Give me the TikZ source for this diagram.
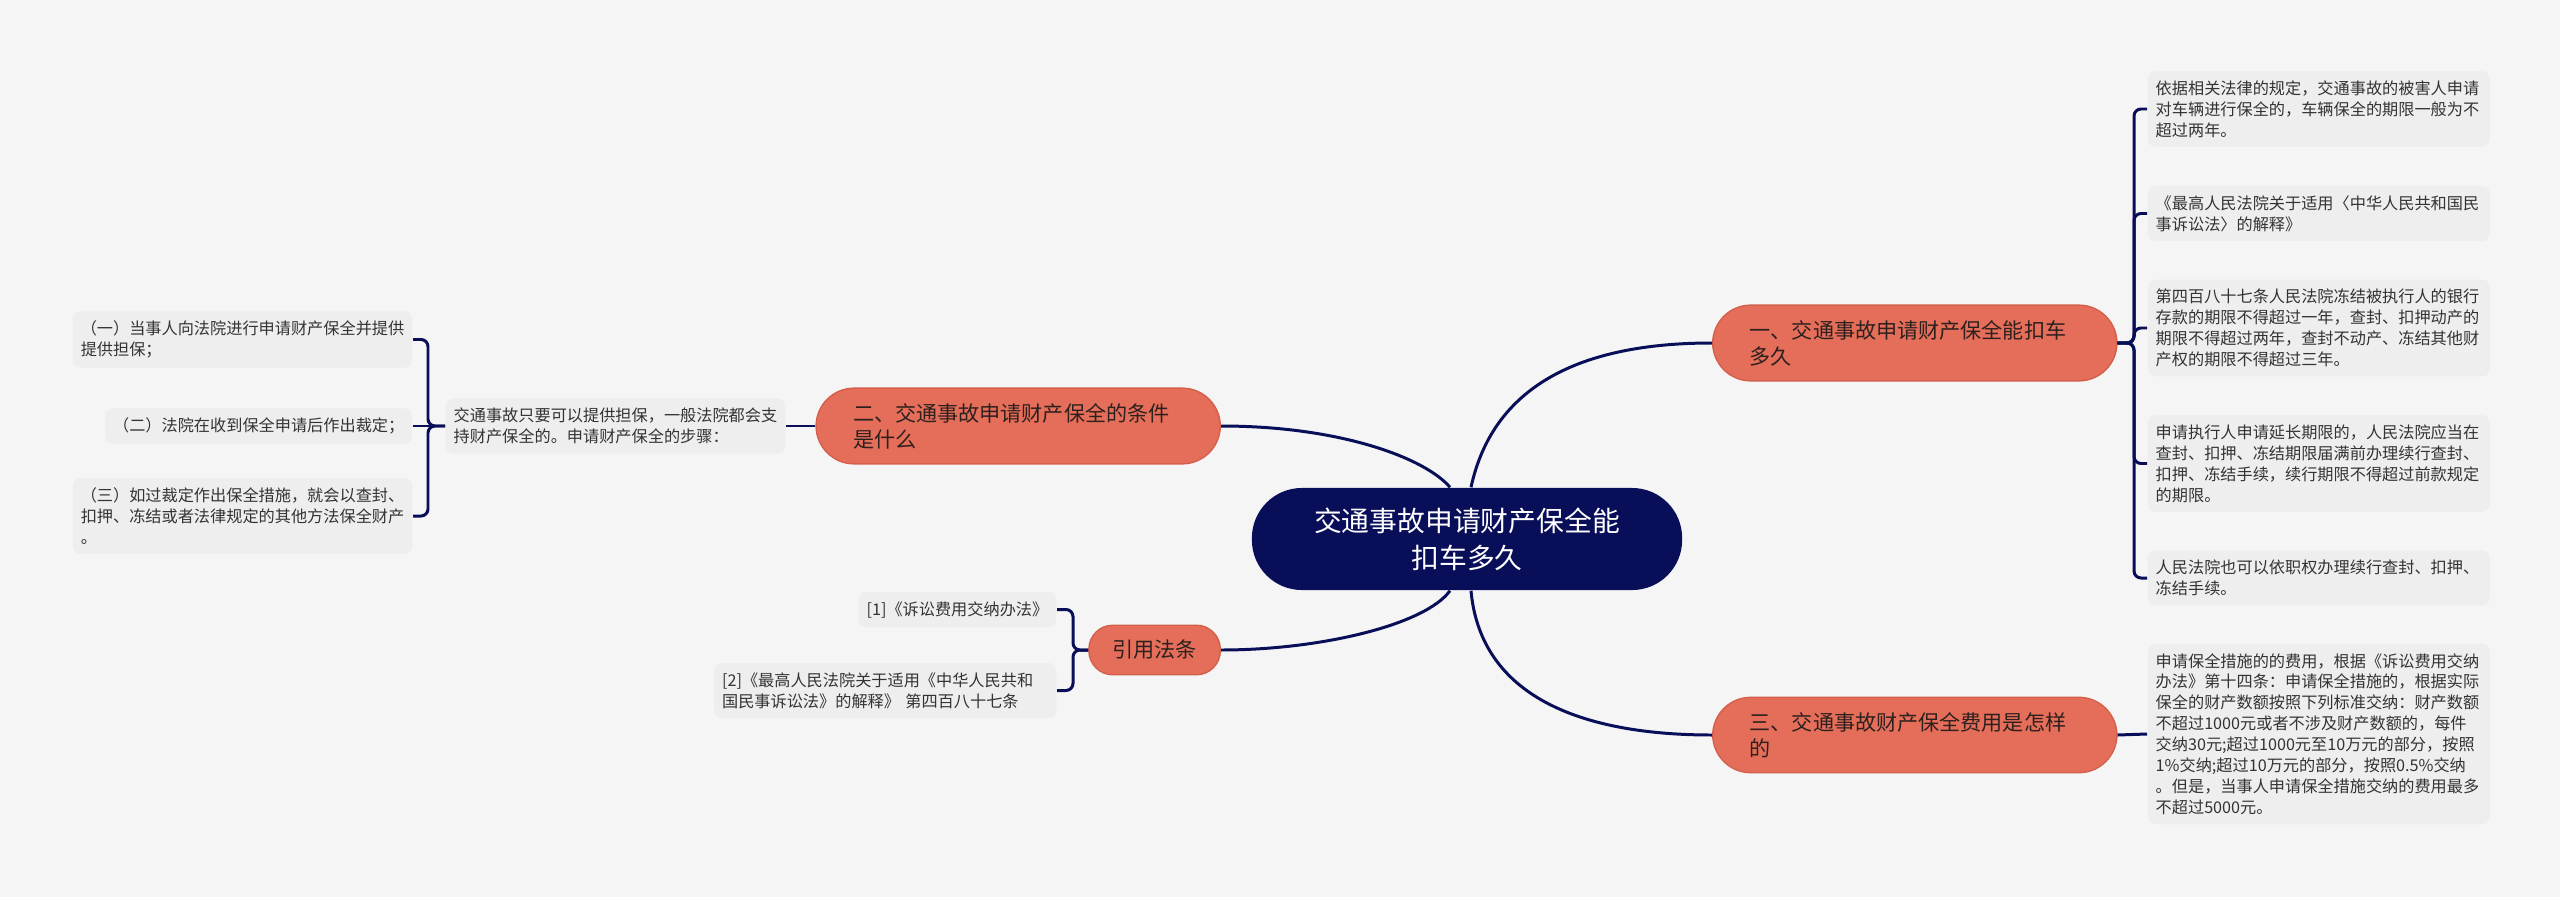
\documentclass[tikz,border=0pt]{standalone}
\usepackage{fontspec}
\setmainfont{Noto Sans CJK SC}
\definecolor{bgcol}{RGB}{245,245,245}
\definecolor{leafcol}{RGB}{238,238,238}
\definecolor{leaftext}{RGB}{51,51,51}
\definecolor{navy}{RGB}{8,14,88}
\definecolor{topiccol}{RGB}{228,110,89}
\definecolor{topicline}{RGB}{212,96,76}
\definecolor{topictext}{RGB}{45,32,30}
\begin{document}
\begin{tikzpicture}[x=0.01cm, y=-0.01cm,
    link/.style={draw=navy, line width=0.85pt},
    leaf/.style={fill=leafcol, rounded corners=0.08cm, inner xsep=0.08cm, inner ysep=0.095cm,
      text=leaftext, align=left, font=\fontsize{4.6pt}{5.95pt}\selectfont},
    rleaf/.style={leaf, text width=3.26cm},
    topic/.style={fill=topiccol, draw=topicline, line width=0.4pt, text=topictext, align=left,
      inner ysep=0.15cm, font=\fontsize{6pt}{7.4pt}\selectfont},
    topicwide/.style={topic, rounded corners=0.38cm, inner xsep=0.37cm, text width=3.3cm},
    root/.style={fill=navy, text=white, rounded corners=0.5cm, minimum width=4.3cm,
      minimum height=1.02cm, align=center, font=\fontsize{7.9pt}{10.5pt}\selectfont}]
  % Background and frame
  \useasboundingbox (0,0) rectangle (2560,897);
  \fill[bgcol] (0,0) rectangle (2560,897);

  % Root and topics
  \node[root] (root) at (1467,539) {交通事故申请财产保全能\\扣车多久};
  \node[topicwide, anchor=west] (t1) at (1712,343) {一、交通事故申请财产保全能扣车\\多久};
  \node[topicwide, anchor=east] (t2) at (1221,426) {二、交通事故申请财产保全的条件\\是什么};
  \node[topicwide, anchor=west] (t3) at (1712,735) {三、交通事故财产保全费用是怎样\\的};
  \node[topic, rounded corners=0.24cm, inner xsep=0.235cm, anchor=east] (t4) at (1221,650) {引用法条};

  % Right leaves
  \node[rleaf, anchor=west] (r1) at (2147,109) {依据相关法律的规定，交通事故的被害人申请\\对车辆进行保全的，车辆保全的期限一般为不\\超过两年。};
  \node[rleaf, anchor=west] (r2) at (2147,213.5) {《最高人民法院关于适用〈中华人民共和国民\\事诉讼法〉的解释》};
  \node[rleaf, anchor=west] (r3) at (2147,328) {第四百八十七条人民法院冻结被执行人的银行\\存款的期限不得超过一年，查封、扣押动产的\\期限不得超过两年，查封不动产、冻结其他财\\产权的期限不得超过三年。};
  \node[rleaf, anchor=west] (r4) at (2147,463.5) {申请执行人申请延长期限的，人民法院应当在\\查封、扣押、冻结期限届满前办理续行查封、\\扣押、冻结手续，续行期限不得超过前款规定\\的期限。};
  \node[rleaf, anchor=west] (r5) at (2147,578) {人民法院也可以依职权办理续行查封、扣押、\\冻结手续。};
  \node[rleaf, anchor=west] (r6) at (2147,734) {申请保全措施的的费用，根据《诉讼费用交纳\\办法》第十四条：申请保全措施的，根据实际\\保全的财产数额按照下列标准交纳：财产数额\\不超过1000元或者不涉及财产数额的，每件\\交纳30元;超过1000元至10万元的部分，按照\\1\%交纳;超过10万元的部分，按照0.5\%交纳\\。但是，当事人申请保全措施交纳的费用最多\\不超过5000元。};

  % Left leaves
  \node[leaf, anchor=west] (m) at (445,426) {交通事故只要可以提供担保，一般法院都会支\\持财产保全的。申请财产保全的步骤：};
  \node[leaf, anchor=east] (l1) at (413,339.5) {（一）当事人向法院进行申请财产保全并提供\\提供担保；};
  \node[leaf, anchor=east] (l2) at (413,426) {（二）法院在收到保全申请后作出裁定；};
  \node[leaf, anchor=east] (l3) at (413,516) {（三）如过裁定作出保全措施，就会以查封、\\扣押、冻结或者法律规定的其他方法保全财产\\。};

  % Citations
  \node[leaf, anchor=east] (c1) at (1057,609.5) {[1]《诉讼费用交纳办法》};
  \node[rleaf, anchor=east] (c2) at (1057,690.5) {[2]《最高人民法院关于适用《中华人民共和\\国民事诉讼法》的解释》 第四百八十七条};

  % Root connectors
  \draw[link] (t2.east) .. controls (1340,426) and (1425,458) .. ([xshift=-0.17cm]root.north);
  \draw[link] ([xshift=0.04cm]root.north) .. controls (1490,400) and (1560,343) .. (t1.west);
  \draw[link] ([xshift=-0.17cm]root.south) .. controls (1425,625) and (1320,650) .. (t4.east);
  \draw[link] ([xshift=0.04cm]root.south) .. controls (1480,690) and (1570,735) .. (t3.west);

  % Brackets
  \coordinate (k1) at (2134,343);
  \foreach \n in {r1,r2,r3,r4,r5}
    \draw[link, rounded corners=0.07cm] (t1.east) -- (k1) |- (\n.west);
  \draw[link] (t3.east) -- (r6.west);
  \draw[link] (t2.west) -- (m.east);
  \coordinate (k2) at (428,426);
  \draw[link] (m.west) -- (l2.east);
  \foreach \n in {l1,l3}
    \draw[link, rounded corners=0.07cm] (m.west) -- (k2) |- (\n.east);
  \coordinate (k3) at (1073,650);
  \foreach \n in {c1,c2}
    \draw[link, rounded corners=0.07cm] (t4.west) -- (k3) |- (\n.east);
\end{tikzpicture}
\end{document}
